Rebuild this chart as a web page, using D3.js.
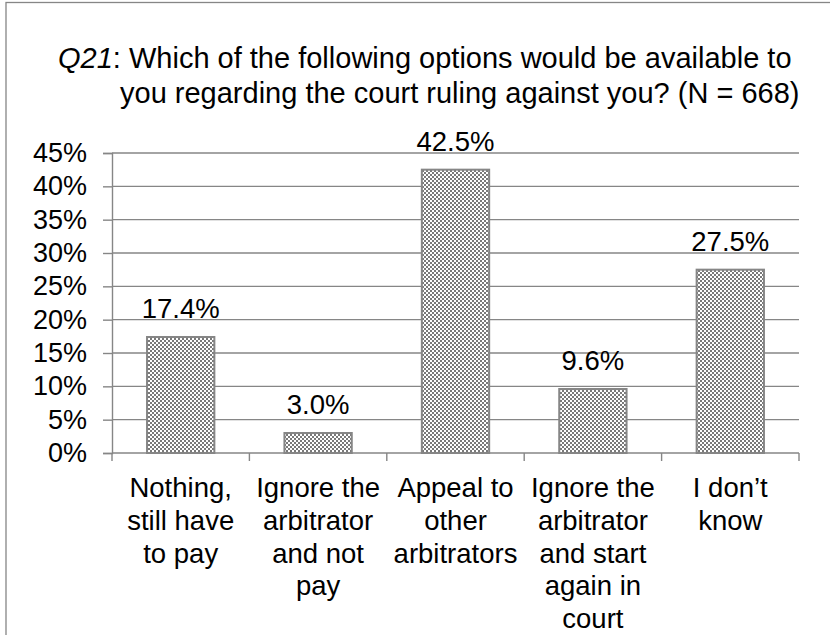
<!DOCTYPE html>
<html>
<head>
<meta charset="utf-8">
<script src="https://cdn.jsdelivr.net/npm/d3@7"></script>
<style>
html,body{margin:0;padding:0;background:#fff;}
svg{display:block;font-family:Arial,"Liberation Sans",sans-serif;}
</style>
</head>
<body>
<svg id="chart" width="830" height="635"></svg>
<script>
const categories = [
  ["Nothing,", "still have", "to pay"],
  ["Ignore the", "arbitrator", "and not", "pay"],
  ["Appeal to", "other", "arbitrators"],
  ["Ignore the", "arbitrator", "and start", "again in", "court"],
  ["I don\u2019t", "know"]
];
const values = [17.4, 3.0, 42.5, 9.6, 27.5];
const valueLabels = ["17.4%", "3.0%", "42.5%", "9.6%", "27.5%"];
const yTicks = [0, 5, 10, 15, 20, 25, 30, 35, 40, 45];
const titleLines = ["Which of the following options would be available to", "you regarding the court ruling against you? (N = 668)"];

const svg = d3.select("#chart");
const grey = "#868686";

// pattern
const defs = svg.append("defs");
const pat = defs.append("pattern").attr("id", "checker")
  .attr("patternUnits", "userSpaceOnUse").attr("width", 4).attr("height", 4);
pat.append("rect").attr("width", 4).attr("height", 4).attr("fill", "#ffffff");
pat.append("rect").attr("x", 0).attr("y", 0).attr("width", 2).attr("height", 2).attr("fill", "#7a7a7a");
pat.append("rect").attr("x", 2).attr("y", 2).attr("width", 2).attr("height", 2).attr("fill", "#7a7a7a");

// frame
svg.append("rect").attr("x", 6).attr("y", 2.5).attr("width", 900).attr("height", 900)
  .attr("fill", "none").attr("stroke", grey).attr("stroke-width", 1.3);

const x0 = 112, x1 = 799, yTop = 153, yBot = 453;
const x = d3.scaleBand().domain(d3.range(categories.length)).range([x0, x1]).padding(0);
const y = d3.scaleLinear().domain([0, 45]).range([yBot, yTop]);

// gridlines
svg.append("g").selectAll("line").data(yTicks.filter(d => d > 0)).join("line")
  .attr("x1", x0).attr("x2", x1).attr("y1", d => y(d)).attr("y2", d => y(d))
  .attr("stroke", grey).attr("stroke-width", 1.4);

// y axis
const yAxis = svg.append("g").attr("transform", `translate(${x0},0)`)
  .call(d3.axisLeft(y).tickValues(yTicks).tickSize(9).tickPadding(16).tickFormat(d => d + "%"));
yAxis.select(".domain").attr("stroke", grey).attr("stroke-width", 1.4);
yAxis.selectAll(".tick line").attr("stroke", grey).attr("stroke-width", 1.4);
yAxis.selectAll(".tick text").attr("font-size", "27px").attr("fill", "#000")
  .attr("font-family", "Arial, 'Liberation Sans', sans-serif");

// bars
const bw = x.bandwidth() * 0.49;
svg.append("g").selectAll("rect").data(values).join("rect")
  .attr("x", (d, i) => x(i) + (x.bandwidth() - bw) / 2)
  .attr("y", d => y(d))
  .attr("width", bw)
  .attr("height", d => y(0) - y(d))
  .attr("fill", "url(#checker)")
  .attr("stroke", grey).attr("stroke-width", 2);

// x axis
const xAxisLine = svg.append("g");
xAxisLine.append("line").attr("x1", x0).attr("x2", x1).attr("y1", yBot).attr("y2", yBot)
  .attr("stroke", grey).attr("stroke-width", 1.4);
const boundaries = d3.range(categories.length + 1).map(i => i < categories.length ? x(i) : x1);
xAxisLine.selectAll("line.t").data(boundaries).join("line").attr("class", "t")
  .attr("x1", d => d).attr("x2", d => d).attr("y1", yBot).attr("y2", yBot + 8)
  .attr("stroke", grey).attr("stroke-width", 1.4);

// value labels
svg.append("g").selectAll("text").data(values).join("text")
  .attr("x", (d, i) => x(i) + x.bandwidth() / 2)
  .attr("y", d => y(d) - 19)
  .attr("text-anchor", "middle").attr("font-size", "27.5px").attr("fill", "#000")
  .text((d, i) => valueLabels[i]);

// category labels
const cl = svg.append("g");
categories.forEach((lines, i) => {
  const t = cl.append("text").attr("text-anchor", "middle").attr("font-size", "27.5px").attr("fill", "#000");
  lines.forEach((ln, j) => {
    t.append("tspan").attr("x", x(i) + x.bandwidth() / 2).attr("y", 497 + j * 32.8).text(ln);
  });
});

// title
const t1 = svg.append("text").attr("x", 58).attr("y", 68).attr("font-size", "29px").attr("fill", "#000");
t1.append("tspan").attr("font-style", "italic").text("Q21");
t1.append("tspan").text(": " + titleLines[0]);
svg.append("text").attr("x", 120).attr("y", 103).attr("font-size", "29px").attr("fill", "#000")
  .text(titleLines[1]);
</script>
</body>
</html>
